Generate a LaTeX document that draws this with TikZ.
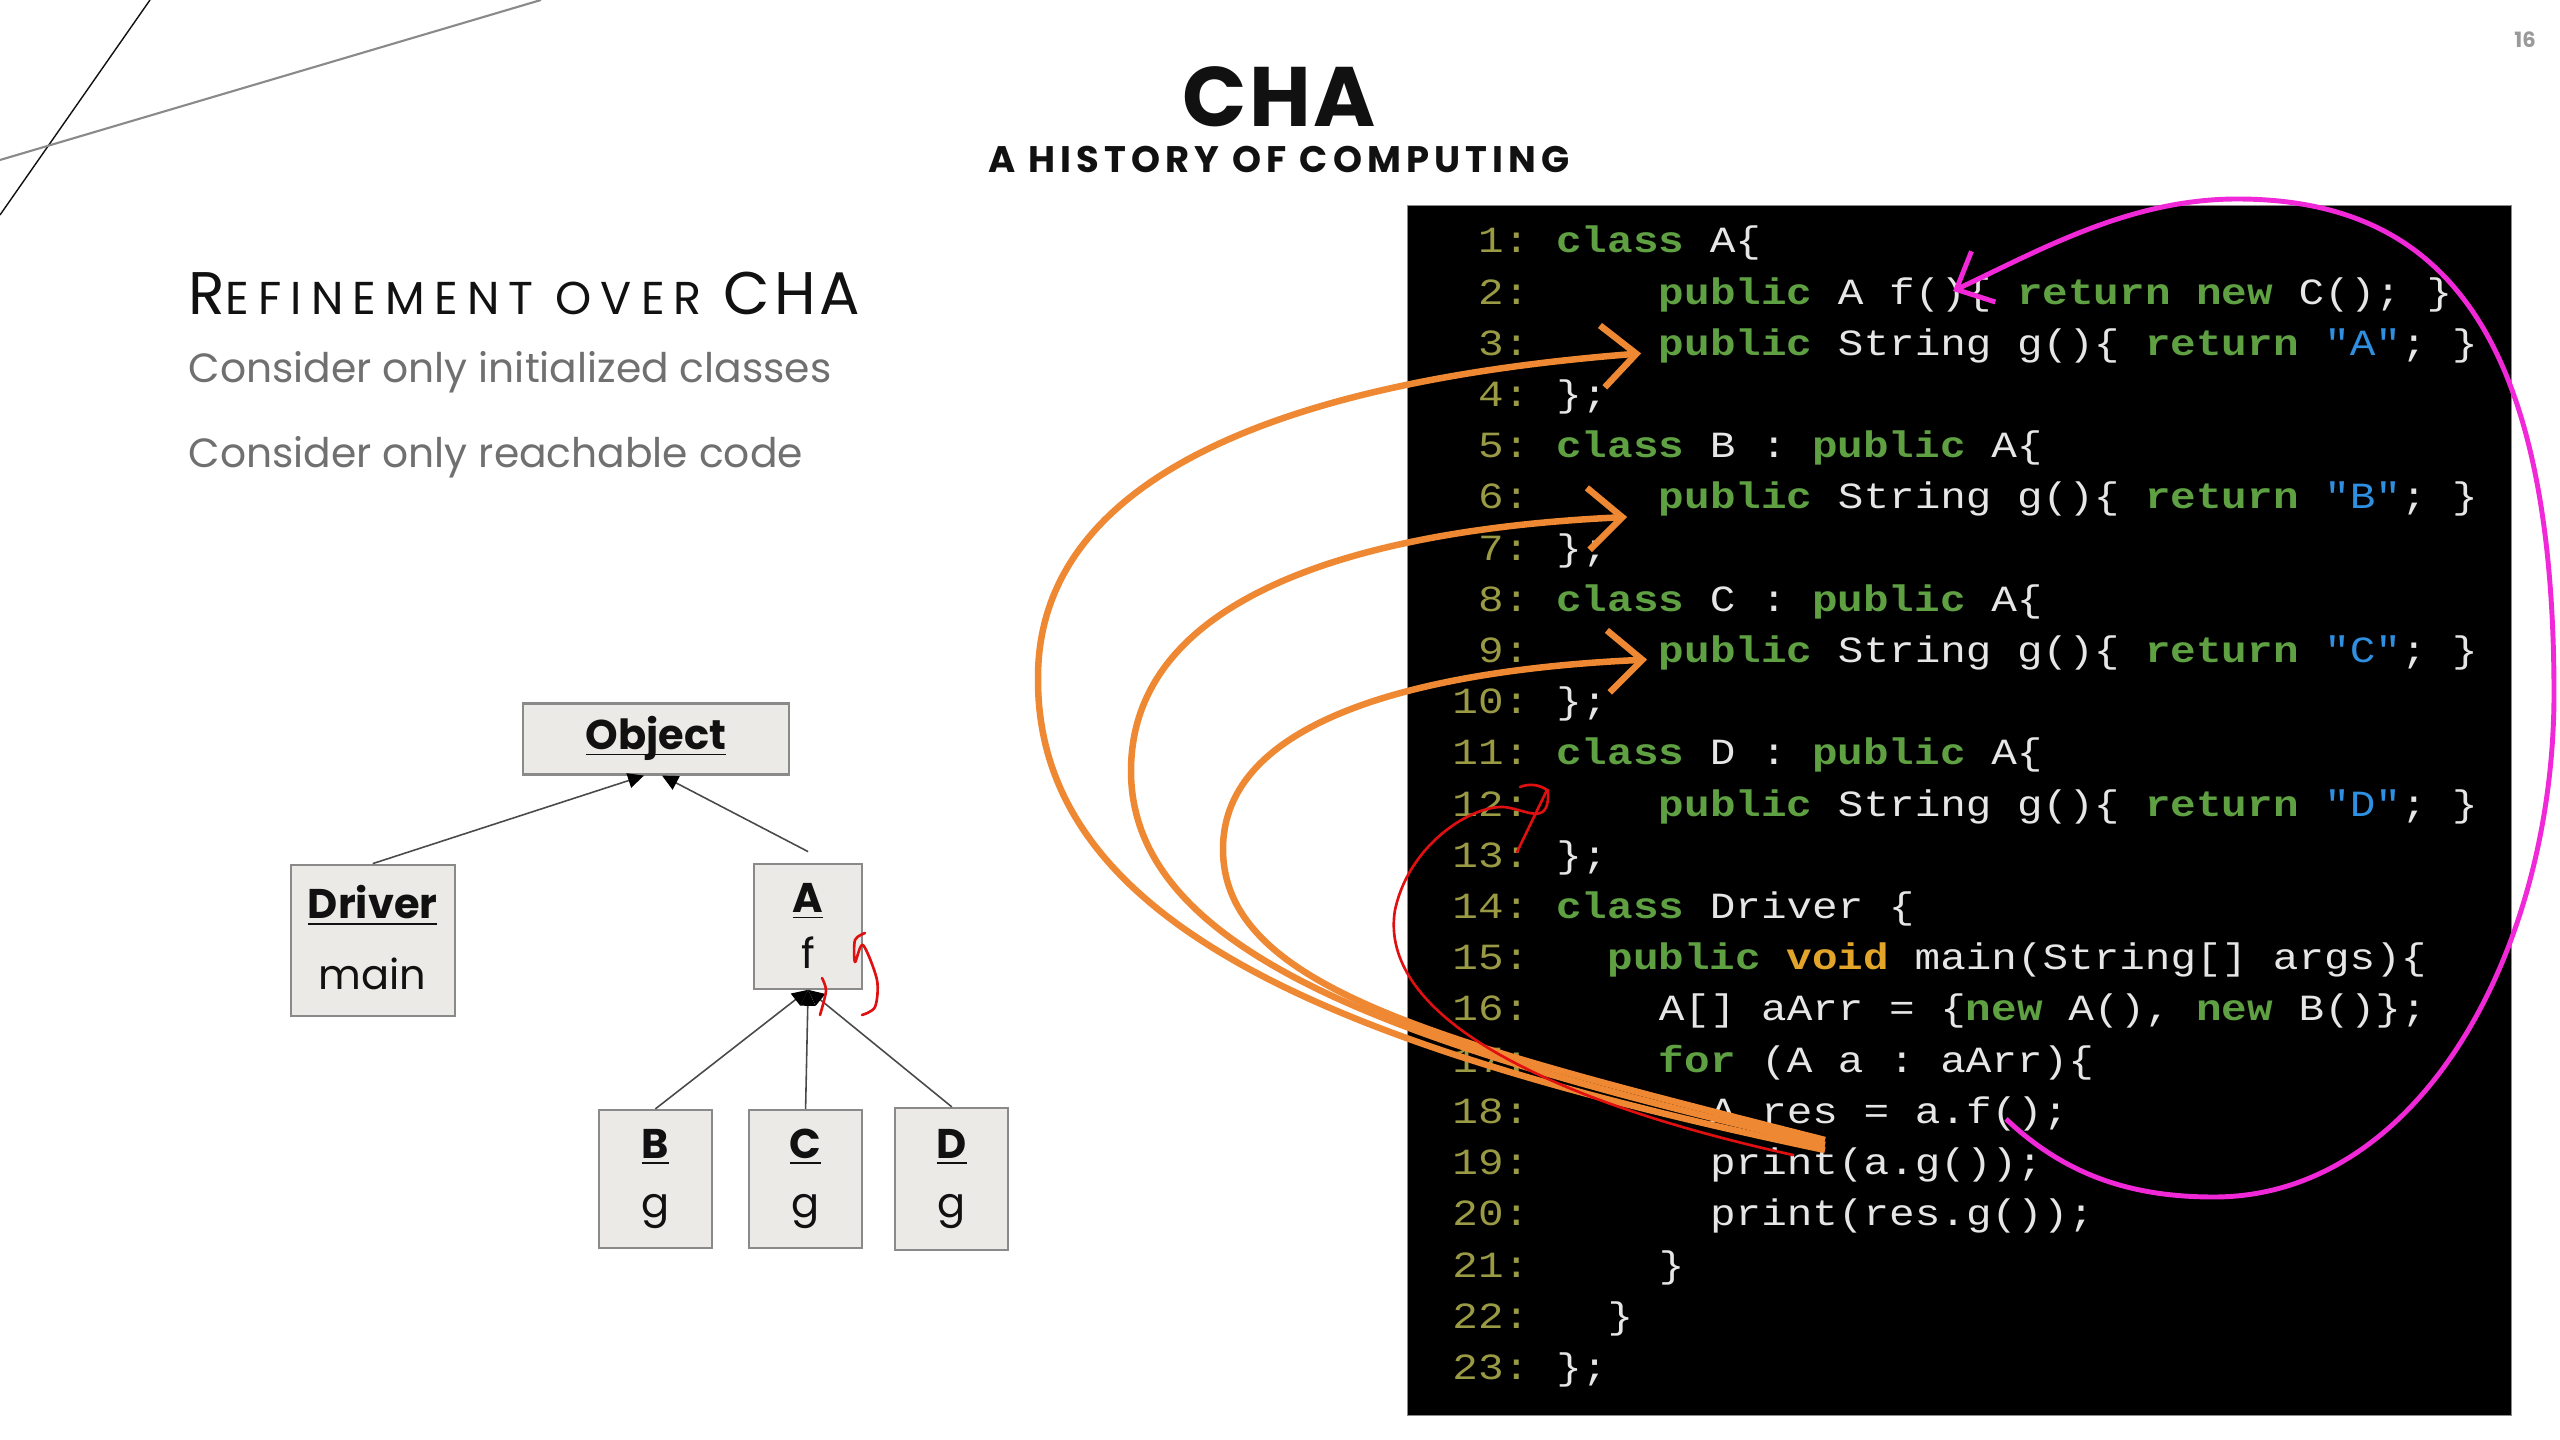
\documentclass[tikz,border=0pt]{standalone}
\usepackage{fontspec}
\setmainfont{Poppins}
\newfontfamily\codefont[FakeStretch=1.155]{Liberation Mono}
\usetikzlibrary{positioning,arrows.meta,calc}
\definecolor{ink}{HTML}{111111}
\definecolor{subgray}{HTML}{707070}
\definecolor{pagegray}{HTML}{9A9A9A}
\definecolor{boxfill}{HTML}{ECEAE6}
\definecolor{boxline}{HTML}{8A8A8A}
\definecolor{umlline}{HTML}{4A4A4A}
\definecolor{codebg}{HTML}{000000}
\definecolor{codenum}{HTML}{9A9A45}
\definecolor{codekw}{HTML}{5FA043}
\definecolor{codetxt}{HTML}{E6E6E6}
\definecolor{codestr}{HTML}{2F8FE0}
\definecolor{codevoid}{HTML}{E2A52A}
\definecolor{callorange}{HTML}{EE8833}
\definecolor{dispatch}{HTML}{F028D8}
\definecolor{scribble}{HTML}{E01010}
\newcommand\kw[1]{\textcolor{codekw}{\bfseries #1}}
\newcommand\kwvoid[1]{\textcolor{codevoid}{\bfseries #1}}
\newcommand\strlit[1]{\textcolor{codestr}{#1}}
\newcommand\ulabel[1]{\underline{\vphantom{A}\smash{#1}}}
\newcommand\cx[1]{1453+#1*25.64}
\newcommand\ry[1]{253+(#1-1)*51.2}
\tikzset{
  umlbox/.style={draw=boxline,line width=0.6pt,fill=boxfill,align=center,inner sep=0pt,minimum width=1.13cm,minimum height=1.38cm,font=\fontsize{11.8}{16}\selectfont,text=ink},
  inherit/.style={-{Triangle[length=0.16cm,width=0.15cm,color=black]},draw=umlline,line width=0.45pt},
  lineno/.style={anchor=base east,inner sep=0pt,text=codenum,font=\codefont\fontsize{10.5}{12}\selectfont},
  codeline/.style={anchor=base west,inner sep=0pt,text=codetxt,font=\codefont\fontsize{10.5}{12}\selectfont\frenchspacing},
  callarrow/.style={-{Straight Barb[length=0.34cm,width=0.62cm]},draw=callorange,line width=1.85pt},
  dispatcharrow/.style={-{Straight Barb[length=0.3cm,width=0.56cm]},draw=dispatch,line width=1.4pt},
  scribbleline/.style={draw=scribble,line width=0.75pt,line cap=round,line join=round},
  pointtext/.style={anchor=base west,inner sep=0pt,text=subgray,font=\fontsize{11.6}{14}\selectfont}
}

\begin{document}
\begin{tikzpicture}[x=0.01cm,y=-0.01cm]
  \fill[white] (0,0) rectangle (2560,1440);
  \useasboundingbox (0,0) rectangle (2560,1440);
  % corner lines
  \draw[ink,line width=0.4pt] (150,0) -- (0,215);
  \draw[boxline,line width=0.6pt] (541,0) -- (0,160);
  \node[text=pagegray,font=\fontsize{6}{7}\selectfont\bfseries] (pagenum) at (2525,40) {16};
  % titles
  \node[anchor=base,inner sep=0pt,font=\fontsize{24}{28}\selectfont\bfseries\addfontfeature{LetterSpace=3},text=ink] (title) at (1279,127) {CHA};
  \node[anchor=base,inner sep=0pt,font=\fontsize{10.5}{12}\selectfont\bfseries\addfontfeature{LetterSpace=14},text=ink] (subtitle) at (1279,173) {A HISTORY OF COMPUTING};
  \node[anchor=base west,inner sep=0pt,text=ink] (heading) at (188,315)
    {\addfontfeature{LetterSpace=20}\fontsize{17.1}{20}\selectfont R\fontsize{13.1}{16}\selectfont EFINEMENT OVER \addfontfeature{LetterSpace=7}\fontsize{17.1}{20}\selectfont CHA};
  \node[pointtext] (point1) at (188,383) {Consider only initialized classes};
  \node[pointtext] (point2) at (188,468) {Consider only reachable code};

  % class hierarchy
  \node[umlbox,minimum width=2.66cm,minimum height=0.71cm] (object) at (656,739) {\ulabel{\textbf{Object}}};
  \node[umlbox,minimum width=1.64cm,minimum height=1.51cm,below left=0.88cm and 0.66cm of object] (driver) {\ulabel{\textbf{Driver}}\\[4.2pt]main};
  \node[umlbox,minimum width=1.08cm,minimum height=1.25cm,below=0.87cm of object,xshift=1.52cm] (a) {\ulabel{\textbf{A}}\\f};
  \node[umlbox,below=1.19cm of a,xshift=-0.025cm] (c) {\ulabel{\textbf{C}}\\[0.8pt]g};
  \node[umlbox,left=0.35cm of c] (b) {\ulabel{\textbf{B}}\\[0.8pt]g};
  \node[umlbox,minimum height=1.42cm,right=0.31cm of c] (d) {\ulabel{\textbf{D}}\\[0.8pt]g};
  \draw[inherit] (driver.north) -- ([xshift=-0.12cm]object.south);
  \draw[inherit] ([yshift=0.11cm]a.north) -- ([xshift=0.06cm]object.south);
  \draw[inherit] (b.north) -- (a.south);
  \draw[inherit] (c.north) -- (a.south);
  \draw[inherit] (d.north) -- (a.south);
  \draw[scribbleline] plot[smooth] coordinates {(822,978) (826,991) (820,1015)};
  \draw[scribbleline] plot[smooth] coordinates {(865,933) (855,940) (855,962) (863,945) (877,980) (875,1007) (862,1015)};

  % code listing
  \node[draw=boxline,line width=0.4pt,fill=codebg,anchor=north west,minimum width=11.03cm,minimum height=12.09cm] (panel) at (1407,205) {};
  \foreach \i in {1,...,23}
    \node[lineno] (n\i) at ({\cx{3}},{\ry{\i}}) {\i:};
  \node[codeline] (l1) at ({\cx{4}},{\ry{1}}) {\kw{class} A\{};
  \node[codeline] (l2) at ({\cx{8}},{\ry{2}}) {\kw{public} A f()\{ \kw{return} \kw{new} C(); \}};
  \node[codeline] (l3) at ({\cx{8}},{\ry{3}}) {\kw{public} String g()\{ \kw{return} \strlit{"A"}; \}};
  \node[codeline] (l4) at ({\cx{4}},{\ry{4}}) {\};};
  \node[codeline] (l5) at ({\cx{4}},{\ry{5}}) {\kw{class} B : \kw{public} A\{};
  \node[codeline] (l6) at ({\cx{8}},{\ry{6}}) {\kw{public} String g()\{ \kw{return} \strlit{"B"}; \}};
  \node[codeline] (l7) at ({\cx{4}},{\ry{7}}) {\};};
  \node[codeline] (l8) at ({\cx{4}},{\ry{8}}) {\kw{class} C : \kw{public} A\{};
  \node[codeline] (l9) at ({\cx{8}},{\ry{9}}) {\kw{public} String g()\{ \kw{return} \strlit{"C"}; \}};
  \node[codeline] (l10) at ({\cx{4}},{\ry{10}}) {\};};
  \node[codeline] (l11) at ({\cx{4}},{\ry{11}}) {\kw{class} D : \kw{public} A\{};
  \node[codeline] (l12) at ({\cx{8}},{\ry{12}}) {\kw{public} String g()\{ \kw{return} \strlit{"D"}; \}};
  \node[codeline] (l13) at ({\cx{4}},{\ry{13}}) {\};};
  \node[codeline] (l14) at ({\cx{4}},{\ry{14}}) {\kw{class} Driver \{};
  \node[codeline] (l15) at ({\cx{6}},{\ry{15}}) {\kw{public} \kwvoid{void} main(String[] args)\{};
  \node[codeline] (l16) at ({\cx{8}},{\ry{16}}) {A[] aArr = \{\kw{new} A(), \kw{new} B()\};};
  \node[codeline] (l17) at ({\cx{8}},{\ry{17}}) {\kw{for} (A a : aArr)\{};
  \node[codeline] (l18) at ({\cx{10}},{\ry{18}}) {A res = a.f();};
  \node[codeline] (l19) at ({\cx{10}},{\ry{19}}) {print(a.g());};
  \node[codeline] (l20) at ({\cx{10}},{\ry{20}}) {print(res.g());};
  \node[codeline] (l21) at ({\cx{8}},{\ry{21}}) {\}};
  \node[codeline] (l22) at ({\cx{6}},{\ry{22}}) {\}};
  \node[codeline] (l23) at ({\cx{4}},{\ry{23}}) {\};};

  % hand-drawn call targets
  \coordinate (gcall) at (1825,1145);
  \coordinate (gA) at ([xshift=-0.17cm,yshift=0.02cm]l3.base west);
  \coordinate (gB) at ([xshift=-0.31cm,yshift=-0.08cm]l6.base west);
  \coordinate (gC) at ([xshift=-0.11cm,yshift=0.03cm]l9.base west);
  \draw[callarrow] ($(gcall)+(0,5)$) .. controls (1350,1050) and (1038,930) .. (1038,680)
    .. controls (1036,470) and (1300,380) .. (gA);
  \draw[callarrow] (gcall) .. controls (1420,1050) and (1132,960) .. (1131,772)
    .. controls (1130,600) and (1350,530) .. (gB);
  \draw[callarrow] ($(gcall)+(0,-5)$) .. controls (1450,1045) and (1224,990) .. (1223,850)
    .. controls (1222,720) and (1420,670) .. (gC);
  \draw[scribbleline] (1793,1155) .. controls (1500,1090) and (1380,1000) .. (1395,910)
    .. controls (1410,840) and (1480,800) .. (1510,808) .. controls (1530,812) and (1550,825) .. (1548,790);
  \draw[scribbleline] (1520,787) .. controls (1530,783) and (1540,785) .. (1547,790) -- (1517,852);
  \coordinate (fcall) at (2006,1119);
  \coordinate (fdef) at (1953,291);
  \draw[dispatcharrow] (fcall) .. controls (2070,1180) and (2140,1197) .. (2214,1197)
    .. controls (2420,1197) and (2555,950) .. (2554,690)
    .. controls (2553,330) and (2440,199) .. (2237,199)
    .. controls (2130,199) and (2040,250) .. (fdef);
\end{tikzpicture}
\end{document}
